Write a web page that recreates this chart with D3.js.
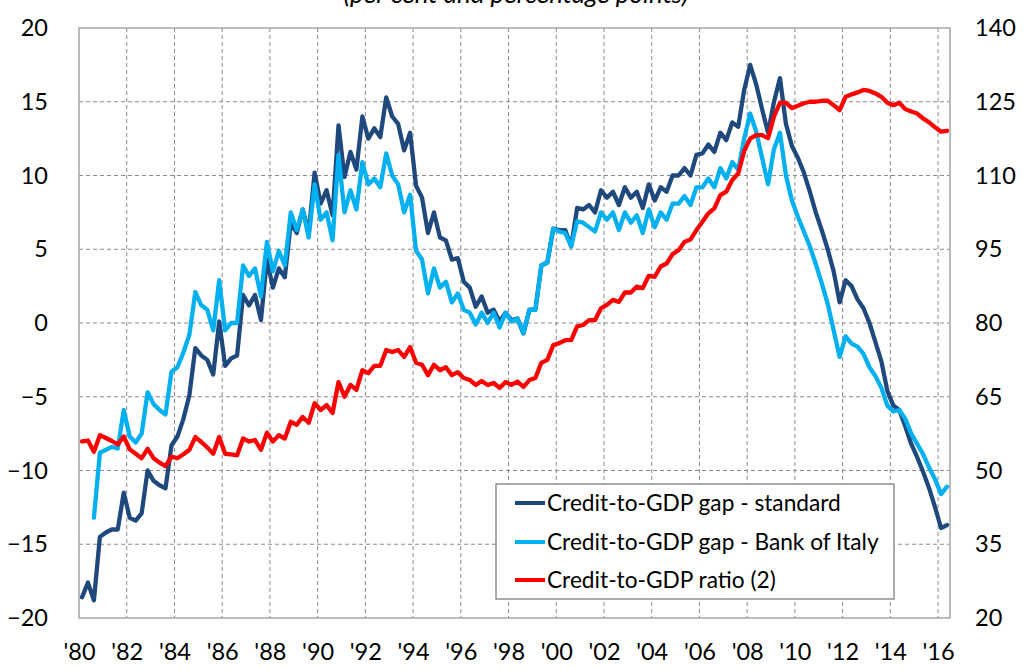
<!DOCTYPE html>
<html>
<head>
<meta charset="utf-8">
<script src="https://cdn.jsdelivr.net/npm/d3@7"></script>
<style>
  html, body { margin: 0; padding: 0; background: #ffffff; }
  svg { display: block; }
  text { font-family: Lato, "Open Sans", sans-serif; fill: #000; }
</style>
</head>
<body>
<svg id="chart" width="1028" height="670"></svg>
<script>
// ---------------- DATA (quarterly, 1980Q1 .. 2016Q2) ----------------
const startYear = 1980;
const tickYears = [1980,1982,1984,1986,1988,1990,1992,1994,1996,1998,2000,2002,2004,2006,2008,2010,2012,2014,2016];
const tickLabels = ["'80","'82","'84","'86","'88","'90","'92","'94","'96","'98","'00","'02","'04","'06","'08","'10","'12","'14","'16"];
const leftTicks = [-20,-15,-10,-5,0,5,10,15,20];
const rightTicks = [20,35,50,65,80,95,110,125,140];

const gapStandard = [
  -18.6,-17.6,-18.8,-14.5,-14.2,-14.0,-14.0,-11.5,-13.2,-13.4,
  -12.9,-10.0,-10.7,-11.0,-11.2,-8.3,-7.7,-6.5,-4.9,-1.7,
  -2.2,-2.5,-3.5,0.1,-2.9,-2.4,-2.2,1.9,1.2,1.9,
  0.2,4.3,2.4,3.7,3.1,6.8,6.1,7.7,6.1,10.2,
  8.1,9.0,7.3,13.4,9.9,11.6,10.4,14.0,12.5,13.2,
  12.6,15.3,14.0,13.5,11.7,12.9,9.3,8.5,6.1,7.5,
  5.8,5.6,4.3,4.4,2.8,2.4,1.1,1.8,0.7,0.9,
  0.1,0.7,0.2,0.3,-0.7,0.9,0.9,3.9,4.1,6.4,
  6.3,6.3,5.2,7.8,7.7,8.0,7.5,9.0,8.5,8.9,
  8.0,9.2,8.5,8.9,7.8,9.4,8.3,9.2,8.9,10.0,
  10.0,10.5,10.0,11.4,11.5,12.1,11.6,12.9,12.4,13.6,
  13.3,15.8,17.5,16.2,14.5,12.9,15.0,16.6,13.5,12.0,
  11.2,10.2,8.9,7.5,6.3,5.0,3.5,1.4,2.9,2.5,
  1.6,1.0,0.0,-1.3,-2.6,-4.6,-5.6,-5.9,-7.0,-8.2,
  -9.1,-10.1,-11.2,-12.5,-13.9,-13.7
];

const gapBankOfItaly = [
  null,null,-13.2,-8.8,-8.6,-8.4,-8.5,-5.9,-7.7,-8.1,
  -7.5,-4.7,-5.5,-5.9,-6.2,-3.3,-3.0,-2.0,-0.8,2.1,
  1.2,0.9,-0.5,2.9,-0.5,0.0,0.0,3.9,3.2,3.7,
  1.8,5.5,3.5,4.9,3.9,7.5,6.3,7.7,5.8,9.4,
  7.0,7.5,5.6,11.4,7.5,9.0,7.7,10.9,9.4,9.8,
  9.2,11.5,10.0,9.4,7.5,8.7,4.9,4.3,2.0,3.7,
  2.4,2.8,1.4,2.0,0.9,0.7,-0.1,0.7,0.0,0.7,
  -0.3,0.7,0.1,0.3,-0.7,0.9,0.9,3.9,4.1,6.4,
  6.2,6.1,5.2,6.9,6.8,6.5,6.2,7.5,7.0,7.5,
  6.3,7.5,6.8,7.3,6.1,7.7,6.5,7.5,7.0,8.1,
  8.1,8.6,8.0,9.2,9.2,9.8,9.2,10.5,9.8,10.9,
  10.4,12.5,14.2,13.0,11.2,9.4,11.8,12.9,10.0,8.3,
  7.2,6.2,5.2,4.0,2.7,1.3,-0.5,-2.3,-0.9,-1.4,
  -1.6,-2.1,-3.0,-3.6,-4.4,-5.6,-6.0,-5.9,-6.5,-7.5,
  -8.2,-8.9,-9.8,-10.6,-11.6,-11.1
];

const creditToGdpRatio = [
  55.9,56.1,53.8,57.2,56.6,56.0,55.3,56.9,54.3,53.4,
  52.5,54.4,52.5,51.6,50.9,52.8,52.5,53.3,54.2,56.8,
  55.8,54.7,53.4,56.8,53.4,53.3,53.1,56.5,55.9,56.2,
  54.2,57.7,55.9,57.2,56.5,59.9,59.3,60.9,59.7,63.7,
  62.3,63.3,61.7,68.0,65.0,67.4,66.4,70.4,69.8,71.3,
  71.3,74.5,74.1,74.5,73.1,75.1,71.9,71.5,69.4,71.5,
  70.4,71.0,69.4,70.0,68.8,68.4,67.4,68.2,67.4,67.8,
  66.8,68.0,67.4,68.1,67.0,68.4,68.8,71.9,72.5,75.5,
  75.9,76.5,76.5,79.3,79.6,80.6,80.6,83.0,83.7,84.7,
  84.3,86.2,86.2,87.4,87.1,89.6,89.4,91.5,92.1,94.0,
  94.8,96.5,97.0,98.9,100.6,102.3,103.3,106.0,106.7,109.1,
  110.4,115.0,117.5,118.2,118.2,117.6,122.0,124.8,124.8,123.7,
  124.2,124.7,125.0,125.0,125.2,125.2,124.3,123.3,126.0,126.5,
  126.9,127.4,127.2,126.7,126.0,124.8,124.3,124.8,123.5,123.0,
  122.6,121.6,120.8,119.8,118.9,119.1
];

const seriesNames = ["Credit-to-GDP gap - standard","Credit-to-GDP gap - Bank of Italy","Credit-to-GDP ratio (2)"];
const seriesColors = ["#1F497D","#00B0F0","#FF0000"];
const titleText = "(per cent and percentage points)";

// ---------------- LAYOUT ----------------
const svg = d3.select("#chart");
const L = 79, R = 950, T = 28, B = 618;

const x = d3.scaleLinear().domain([startYear, startYear + creditToGdpRatio.length / 4]).range([L, R]);
const yL = d3.scaleLinear().domain([-20, 20]).range([B, T]);
const yR = d3.scaleLinear().domain([20, 140]).range([B, T]);
const qx = i => x(startYear + (i + 0.5) / 4);

// Title (partly cut at top, as in the reference)
const title = svg.append("text")
  .attr("x", 516).attr("y", 3)
  .attr("text-anchor", "middle")
  .style("font-style", "italic")
  .style("font-size", "21px")
  .text(titleText);

// Gridlines
const grid = svg.append("g");
grid.selectAll("line.h").data(leftTicks.filter(v => v > -20 && v < 20)).enter()
  .append("line")
  .attr("x1", L).attr("x2", R)
  .attr("y1", d => yL(d)).attr("y2", d => yL(d))
  .attr("stroke", "#8a8a8a").attr("stroke-width", 1).attr("stroke-dasharray", "4,3");
grid.selectAll("line.v").data(tickYears.filter(v => v > startYear)).enter()
  .append("line")
  .attr("x1", d => x(d)).attr("x2", d => x(d))
  .attr("y1", T).attr("y2", B)
  .attr("stroke", "#8a8a8a").attr("stroke-width", 1).attr("stroke-dasharray", "4,3");

// Plot border
svg.append("rect")
  .attr("x", L).attr("y", T).attr("width", R - L).attr("height", B - T)
  .attr("fill", "none").attr("stroke", "#a6a6a6").attr("stroke-width", 1.5);

// Axes (labels only)
const axLeft = svg.append("g").attr("transform", `translate(${L},0)`)
  .call(d3.axisLeft(yL).tickValues(leftTicks).tickSize(0).tickPadding(31).tickFormat(d3.format("d")));
const axRight = svg.append("g").attr("transform", `translate(${R},0)`)
  .call(d3.axisRight(yR).tickValues(rightTicks).tickSize(0).tickPadding(25).tickFormat(d3.format("d")));
const axBottom = svg.append("g").attr("transform", `translate(0,${B})`)
  .call(d3.axisBottom(x).tickValues(tickYears).tickSize(0).tickPadding(25)
    .tickFormat((d, i) => tickLabels[i]));
[axLeft, axRight, axBottom].forEach(a => {
  a.select(".domain").remove();
  a.selectAll("text").style("font-size", "23.5px").style("font-family", "Lato, 'Open Sans', sans-serif").attr("fill", "#000");
});

// Lines
const lineL = d3.line().defined(d => d != null).x((d, i) => qx(i)).y(d => yL(d));
const lineR = d3.line().defined(d => d != null).x((d, i) => qx(i)).y(d => yR(d));
const lines = svg.append("g").attr("fill", "none").attr("stroke-linejoin", "round").attr("stroke-linecap", "round");
lines.append("path").datum(gapStandard).attr("d", lineL).attr("stroke", seriesColors[0]).attr("stroke-width", 4.3);
lines.append("path").datum(gapBankOfItaly).attr("d", lineL).attr("stroke", seriesColors[1]).attr("stroke-width", 4.3);
lines.append("path").datum(creditToGdpRatio).attr("d", lineR).attr("stroke", seriesColors[2]).attr("stroke-width", 4.3);

// Legend
const lg = svg.append("g");
lg.append("rect").attr("x", 496).attr("y", 484).attr("width", 398).attr("height", 115)
  .attr("fill", "#fff").attr("stroke", "#7f7f7f").attr("stroke-width", 1.3);
const rowsY = [503, 542, 580];
seriesNames.forEach((name, i) => {
  lg.append("line").attr("x1", 515).attr("x2", 545).attr("y1", rowsY[i]).attr("y2", rowsY[i])
    .attr("stroke", seriesColors[i]).attr("stroke-width", 4);
  lg.append("text").attr("class", "lgt").attr("x", 547).attr("y", rowsY[i] + 8)
    .style("font-size", "22px").text(name);
});

// Fit legend/title text to the reference widths
function fit(sel, target) {
  const node = sel.node();
  const fs = parseFloat(sel.style("font-size"));
  const w = node.getComputedTextLength();
  if (w > 0) sel.style("font-size", (fs * target / w).toFixed(2) + "px");
}
fit(lg.selectAll("text.lgt").filter((d, i) => i === 0), 294);
const fsLeg = lg.selectAll("text.lgt").filter((d, i) => i === 0).style("font-size");
lg.selectAll("text.lgt").style("font-size", fsLeg);
fit(title, 345);
</script>
</body>
</html>
